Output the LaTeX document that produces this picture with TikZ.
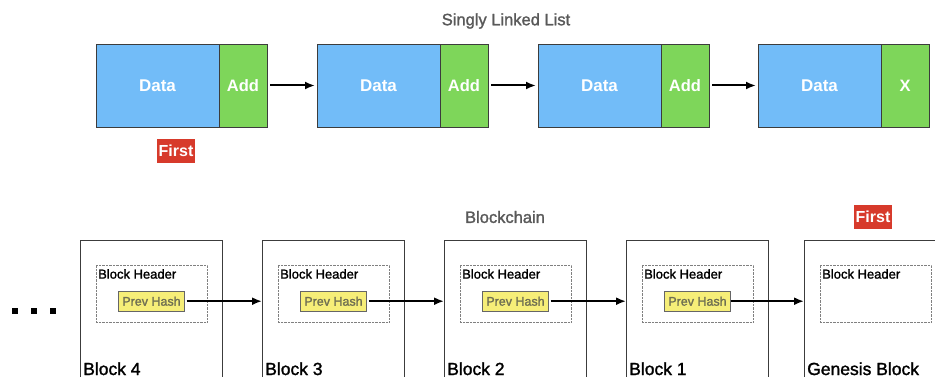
\documentclass[tikz,border=0pt]{standalone}
\usepackage{fontspec}
\setmainfont{Liberation Sans}
\newfontfamily\mediumfont[FakeBold=1.5]{Liberation Sans}
\usetikzlibrary{positioning,arrows.meta,calc}
\definecolor{datablue}{HTML}{72BCF8}
\definecolor{addgreen}{HTML}{7ED65A}
\definecolor{hashyellow}{HTML}{F6EE78}
\definecolor{tagred}{HTML}{D73A2B}
\definecolor{edgegray}{HTML}{3C3C3C}
\definecolor{titlegray}{HTML}{595959}
\definecolor{hashtext}{HTML}{6E6E52}
\tikzset{
    data/.style = {
        draw = edgegray,
        fill = datablue,
        text = white,
        outer sep = 0pt,
        minimum width = 123pt,
        minimum height = 83pt,
        font = \fontsize{17}{20}\selectfont\bfseries,
        },
    addr/.style = {
        draw = edgegray,
        fill = addgreen,
        text = white,
        outer sep = 0pt,
        minimum width = 48pt,
        minimum height = 83pt,
        font = \fontsize{16.5}{20}\selectfont\bfseries,
        },
    tag/.style = {
        fill = tagred,
        text = white,
        minimum width = 38pt,
        minimum height = 24pt,
        inner sep = 1pt,
        font = \fontsize{16}{19}\selectfont\bfseries,
        },
    title/.style = {
        text = titlegray,
        font = \fontsize{16.5}{20}\selectfont\mediumfont,
        },
    link/.style = {
        draw = black,
        line width = 2pt,
        -{Latex[length=10pt,width=8pt]},
        },
    block/.style = {
        draw = edgegray,
        line width = 0.8pt,
        outer sep = 0pt,
        minimum width = 142pt,
        minimum height = 150pt,
        },
    header/.style = {
        draw = gray,
        densely dotted,
        outer sep = 0pt,
        minimum width = 111pt,
        minimum height = 57pt,
        },
    hdrtext/.style = {
        inner xsep = 2pt,
        inner ysep = 4pt,
        font = \fontsize{13}{15}\selectfont\mediumfont,
        },
    prevhash/.style = {
        draw = gray!80!black,
        fill = hashyellow,
        text = hashtext,
        minimum width = 66pt,
        minimum height = 20pt,
        inner sep = 1pt,
        font = \fontsize{12.5}{15}\selectfont\mediumfont,
        },
    blabel/.style = {
        inner sep = 0pt,
        font = \fontsize{17.5}{20}\selectfont\mediumfont,
        },
    dot/.style = {
        fill = black,
        inner sep = 0pt,
        minimum size = 6pt,
        },
}
\begin{document}
\begin{tikzpicture}[x=1pt, y=-1pt]
    \useasboundingbox (0,0) rectangle (935,377);

    % singly linked list
    \node[title] (sll) at (506,21) {Singly Linked List};
    \node[data] (d1) at (157.5,85.5) {Data};
    \node[addr, right=0pt of d1] (a1) {Add};
    \node[data, right=50pt of a1] (d2) {Data};
    \node[addr, right=0pt of d2] (a2) {Add};
    \node[data, right=50pt of a2] (d3) {Data};
    \node[addr, right=0pt of d3] (a3) {Add};
    \node[data, right=49pt of a3] (d4) {Data};
    \node[addr, right=0pt of d4] (a4) {X};
    \node[tag] (f1) at (176,151) {First};

    \draw[link, shorten <=3pt, shorten >=2pt] (a1) -- (d2);
    \draw[link, shorten <=3pt, shorten >=2pt] (a2) -- (d3);
    \draw[link, shorten <=3pt, shorten >=2pt] (a3) -- (d4);

    % blockchain
    \node[title] (bc) at (505,217) {Blockchain};
    \node[tag] (f2) at (873,217) {First};
    \foreach \x [count=\i] in {15,34,53}
        \node[dot] (dot\i) at (\x,311) {};

    \node[block] (b4) at (151,315) {};
    \node[block, right=40pt of b4] (b3) {};
    \node[block, right=40pt of b3] (b2) {};
    \node[block, right=40pt of b2] (b1) {};
    \node[block, right=36pt of b1] (b0) {};

    \foreach \b/\name in {b4/Block 4, b3/Block 3, b2/Block 2, b1/Block 1, b0/Genesis Block} {
        \node[header, below right=25pt and 16pt of \b.north west] (h\b) {};
        \node[hdrtext, anchor=north west] (t\b) at (h\b.north west) {Block Header};
        \node[blabel, anchor=base west] (l\b) at ([shift={(3pt,-135pt)}]\b.north west) {\name};
    }

    \node[prevhash, below=26pt of hb4.north] (p4) {Prev Hash};
    \node[prevhash, below=26pt of hb3.north] (p3) {Prev Hash};
    \node[prevhash, below=26pt of hb2.north] (p2) {Prev Hash};
    \node[prevhash, below=26pt of hb1.north] (p1) {Prev Hash};

    \draw[link, shorten <=2pt] (p4.east) -- (p4.east -| b3.west);
    \draw[link, shorten <=2pt] (p3.east) -- (p3.east -| b2.west);
    \draw[link, shorten <=2pt] (p2.east) -- (p2.east -| b1.west);
    \draw[link] (p1.east) -- (p1.east -| b0.west);
\end{tikzpicture}
\end{document}
